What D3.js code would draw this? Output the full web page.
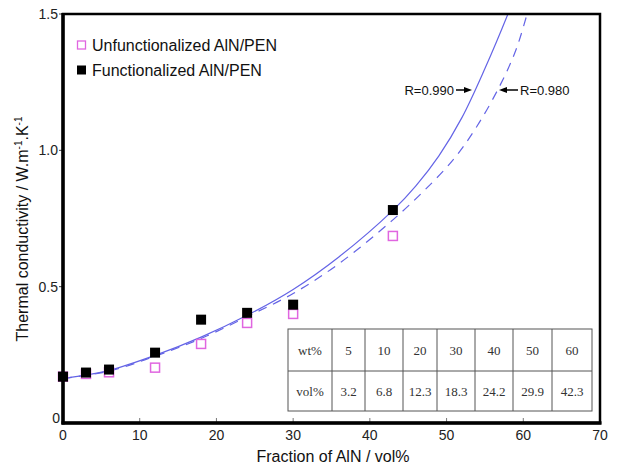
<!DOCTYPE html>
<html><head><meta charset="utf-8">
<script src="https://cdn.jsdelivr.net/npm/d3@7"></script>
<style>body{margin:0;background:#fff}svg{display:block}</style>
</head><body>
<svg id="c" width="621" height="467"></svg>
<script>
// ---- data ----
const volX = [0, 3, 6, 12, 18, 24, 30, 43];
const funcY = [0.170, 0.185, 0.196, 0.258, 0.379, 0.404, 0.434, 0.781];
const unfuncY = [0.170, 0.180, 0.186, 0.203, 0.290, 0.367, 0.400, 0.686];
const fitSolidX = [0, 6, 12, 18, 24, 30, 36, 43, 46, 49, 52, 55, 58, 59.5];
const fitSolidY = [0.163, 0.193, 0.248, 0.315, 0.395, 0.490, 0.610, 0.780, 0.870, 0.980, 1.120, 1.300, 1.500, 1.610];
const fitDashX = [0, 6, 12, 18, 24, 30, 36, 43, 47, 51, 54, 57, 59, 60.5, 61.5];
const fitDashY = [0.163, 0.190, 0.245, 0.310, 0.390, 0.475, 0.585, 0.745, 0.850, 0.970, 1.090, 1.240, 1.365, 1.500, 1.600];
const xTicks = [0, 10, 20, 30, 40, 50, 60, 70];
const yTicks = [0, 0.5, 1.0, 1.5];
const yTickLabels = ["0", "0.5", "1.0", "1.5"];
const wtPct = ["5", "10", "20", "30", "40", "50", "60"];
const volPct = ["3.2", "6.8", "12.3", "18.3", "24.2", "29.9", "42.3"];
const legendLabels = ["Unfunctionalized AlN/PEN", "Functionalized AlN/PEN"];
const rLabels = ["R=0.990", "R=0.980"];

// ---- layout ----
const svg = d3.select("#c");
const L = 63, R = 600, T = 14, B = 423;
const x = d3.scaleLinear().domain([0, 70]).range([L, R]);
const y = d3.scaleLinear().domain([0, 1.5]).range([B, T]);
const sans = "'Liberation Sans', Arial, sans-serif";
const serif = "'Liberation Serif', 'Times New Roman', serif";

svg.append("defs").append("clipPath").attr("id", "clip")
  .append("rect").attr("x", L).attr("y", T).attr("width", R - L).attr("height", B - T);

// fit curves
const line = d3.line().x(d => x(d[0])).y(d => y(d[1])).curve(d3.curveCatmullRom.alpha(0.5));
const g = svg.append("g").attr("clip-path", "url(#clip)");
g.append("path").datum(d3.zip(fitSolidX, fitSolidY)).attr("d", line)
  .attr("fill", "none").attr("stroke", "#6464e6").attr("stroke-width", 1.2);
g.append("path").datum(d3.zip(fitDashX, fitDashY)).attr("d", line)
  .attr("fill", "none").attr("stroke", "#6464e6").attr("stroke-width", 1.2)
  .attr("stroke-dasharray", "9,7");

// points
const s = 10;
svg.append("g").selectAll("rect").data(d3.zip(volX, unfuncY)).join("rect")
  .attr("x", d => x(d[0]) - 4.5).attr("y", d => y(d[1]) - 4.5)
  .attr("width", 9).attr("height", 9)
  .attr("fill", "none").attr("stroke", "#e066e0").attr("stroke-width", 1.5);
svg.append("g").selectAll("rect").data(d3.zip(volX, funcY)).join("rect")
  .attr("x", d => x(d[0]) - s / 2).attr("y", d => y(d[1]) - s / 2)
  .attr("width", s).attr("height", s).attr("fill", "#000");

// table
const colEdges = [288, 332, 365, 403, 437, 475, 513, 552, 592];
const rowEdges = [329, 371, 411];
const tb = svg.append("g");
tb.append("rect").attr("x", colEdges[0]).attr("y", rowEdges[0])
  .attr("width", colEdges[8] - colEdges[0]).attr("height", rowEdges[2] - rowEdges[0])
  .attr("fill", "#fff").attr("stroke", "#555").attr("stroke-width", 1);
tb.append("line").attr("x1", colEdges[0]).attr("x2", colEdges[8])
  .attr("y1", rowEdges[1]).attr("y2", rowEdges[1]).attr("stroke", "#555");
colEdges.slice(1, 8).forEach(cx => tb.append("line").attr("x1", cx).attr("x2", cx)
  .attr("y1", rowEdges[0]).attr("y2", rowEdges[2]).attr("stroke", "#555"));
const rows = [["wt%"].concat(wtPct), ["vol%"].concat(volPct)];
rows.forEach((row, ri) => row.forEach((t, ci) => {
  tb.append("text").attr("x", (colEdges[ci] + colEdges[ci + 1]) / 2)
    .attr("y", (rowEdges[ri] + rowEdges[ri + 1]) / 2 + 4.5)
    .attr("text-anchor", "middle").attr("font-family", serif).attr("font-size", 13)
    .attr("fill", "#333").text(t);
}));

// axes
svg.append("g").selectAll("line").data(xTicks.slice(1, 7)).join("line")
  .attr("x1", d => x(d)).attr("x2", d => x(d)).attr("y1", B).attr("y2", B - 5)
  .attr("stroke", "#777").attr("stroke-width", 1);
svg.append("g").selectAll("text").data(xTicks).join("text")
  .attr("x", d => x(d)).attr("y", 440).attr("text-anchor", "middle")
  .attr("font-family", sans).attr("font-size", 14).attr("fill", "#222").text(d => d);
svg.append("g").selectAll("line").data(yTicks.slice(1)).join("line")
  .attr("x1", L - 4).attr("x2", L).attr("y1", d => y(d)).attr("y2", d => y(d))
  .attr("stroke", "#444").attr("stroke-width", 1);
svg.append("g").selectAll("text").data(yTicks).join("text")
  .attr("x", (d, i) => i === 0 ? 60 : 58).attr("y", (d, i) => i === 0 ? y(d) : y(d) + 5)
  .attr("text-anchor", "end").attr("font-family", sans).attr("font-size", 14)
  .attr("fill", "#222").text((d, i) => yTickLabels[i]);

// frame
svg.append("rect").attr("x", L).attr("y", T).attr("width", R - L).attr("height", B - T)
  .attr("fill", "none").attr("stroke", "#000").attr("stroke-width", 2.5);
svg.append("line").attr("x1", L).attr("x2", L).attr("y1", T - 1).attr("y2", B + 1.5)
  .attr("stroke", "#000").attr("stroke-width", 3.5);
svg.append("line").attr("x1", L - 1.5).attr("x2", R + 1.5).attr("y1", B).attr("y2", B)
  .attr("stroke", "#000").attr("stroke-width", 3.5);

// axis titles
svg.append("text").attr("x", 333).attr("y", 462).attr("text-anchor", "middle")
  .attr("font-family", sans).attr("font-size", 16).attr("fill", "#111")
  .text("Fraction of AlN / vol%");
const yt = svg.append("text").attr("transform", "translate(28,229) rotate(-90)")
  .attr("text-anchor", "middle").attr("font-family", sans).attr("font-size", 16).attr("fill", "#111");
yt.append("tspan").text("Thermal conductivity / W.m");
yt.append("tspan").attr("dy", -6).attr("font-size", 10).text("-1");
yt.append("tspan").attr("dy", 6).text(".K");
yt.append("tspan").attr("dy", -6).attr("font-size", 10).text("-1");

// legend
svg.append("rect").attr("x", 77.5).attr("y", 41).attr("width", 8).attr("height", 8)
  .attr("fill", "none").attr("stroke", "#e066e0").attr("stroke-width", 1.3);
svg.append("rect").attr("x", 77).attr("y", 65.5).attr("width", 9).attr("height", 9).attr("fill", "#000");
legendLabels.forEach((t, i) => svg.append("text").attr("x", 92).attr("y", 51 + i * 24.5)
  .attr("font-family", sans).attr("font-size", 16).attr("fill", "#111").text(t));

// R annotations
const ann = svg.append("g").attr("font-family", sans).attr("font-size", 13).attr("fill", "#111");
ann.append("text").attr("x", 454).attr("y", 94.5).attr("text-anchor", "end").text(rLabels[0]);
ann.append("text").attr("x", 520).attr("y", 94.5).text(rLabels[1]);
function arrow(x1, x2, yy) {
  const dir = Math.sign(x2 - x1);
  svg.append("line").attr("x1", x1).attr("x2", x2 - dir * 6).attr("y1", yy).attr("y2", yy)
    .attr("stroke", "#000").attr("stroke-width", 1.5);
  svg.append("path").attr("d", `M${x2},${yy} L${x2 - dir * 8},${yy - 3} L${x2 - dir * 8},${yy + 3} Z`)
    .attr("fill", "#000");
}
arrow(456, 472, 90);
arrow(518, 499, 90);
</script>
</body></html>
